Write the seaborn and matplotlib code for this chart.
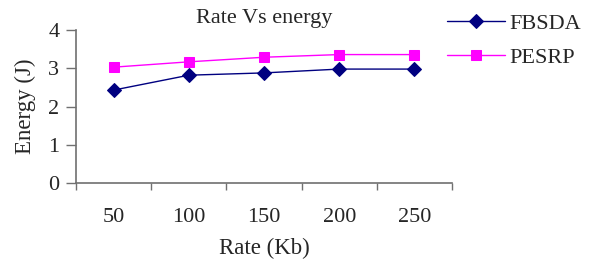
import numpy as np
import pandas as pd
import matplotlib
matplotlib.use('Agg')
import matplotlib.pyplot as plt
import seaborn as sns

# data
rates = ['50', '100', '150', '200', '250']
fbsda = [2.43, 2.82, 2.88, 2.98, 2.98]
pesrp = [3.03, 3.17, 3.29, 3.36, 3.36]
series = ['FBSDA', 'PESRP']

df = pd.DataFrame({
    'rate': rates * 2,
    'energy': fbsda + pesrp,
    'proto': [series[0]] * 5 + [series[1]] * 5,
})

sns.set_style('white')
plt.rcParams['font.family'] = ['Liberation Serif', 'DejaVu Serif']

fig = plt.figure(figsize=(5.94, 2.62), dpi=100)
ax = fig.add_axes([0.128, 0.302, 0.633, 0.583])

sns.pointplot(data=df, x='rate', y='energy', hue='proto', order=rates,
              hue_order=series, palette=['#000080', '#FF00FF'],
              markers=['D', 's'], linestyles=['-', '-'], dodge=False,
              errorbar=None, linewidth=1, markersize=7.5, ax=ax)

ax.set_ylim(0, 4)
ax.set_xlim(-0.5, 4.5)
ax.set_yticks([0, 1, 2, 3, 4])
# tick marks sit between categories
ax.set_xticks(np.arange(-0.5, 5, 1), minor=True)
ax.tick_params(axis='x', which='major', length=0, labelsize=16, pad=18)
ax.tick_params(axis='x', which='minor', length=5, width=1, color='#707070', direction='out', bottom=True)
ax.tick_params(axis='y', length=7, width=1, color='#707070', direction='out', left=True, labelsize=16, pad=5)

for s in ['top', 'right']:
    ax.spines[s].set_visible(False)
for s in ['left', 'bottom']:
    ax.spines[s].set_color('#707070')
    ax.spines[s].set_linewidth(1.2)

ax.set_xlabel('Rate (Kb)', fontsize=16.5, labelpad=8)
ax.set_ylabel('Energy (J)', fontsize=16.5, labelpad=9)
ax.set_title('Rate Vs energy', fontsize=16, pad=5)

h, l = ax.get_legend_handles_labels()
fig.legend(h, l, loc='upper left', bbox_to_anchor=(0.7525, 0.948), frameon=False,
           fontsize=16, handlelength=2.6, handletextpad=0.2, labelspacing=0.6,
           borderpad=0, borderaxespad=0)
ax.get_legend().remove()

fig.savefig('out.png', dpi=100)
